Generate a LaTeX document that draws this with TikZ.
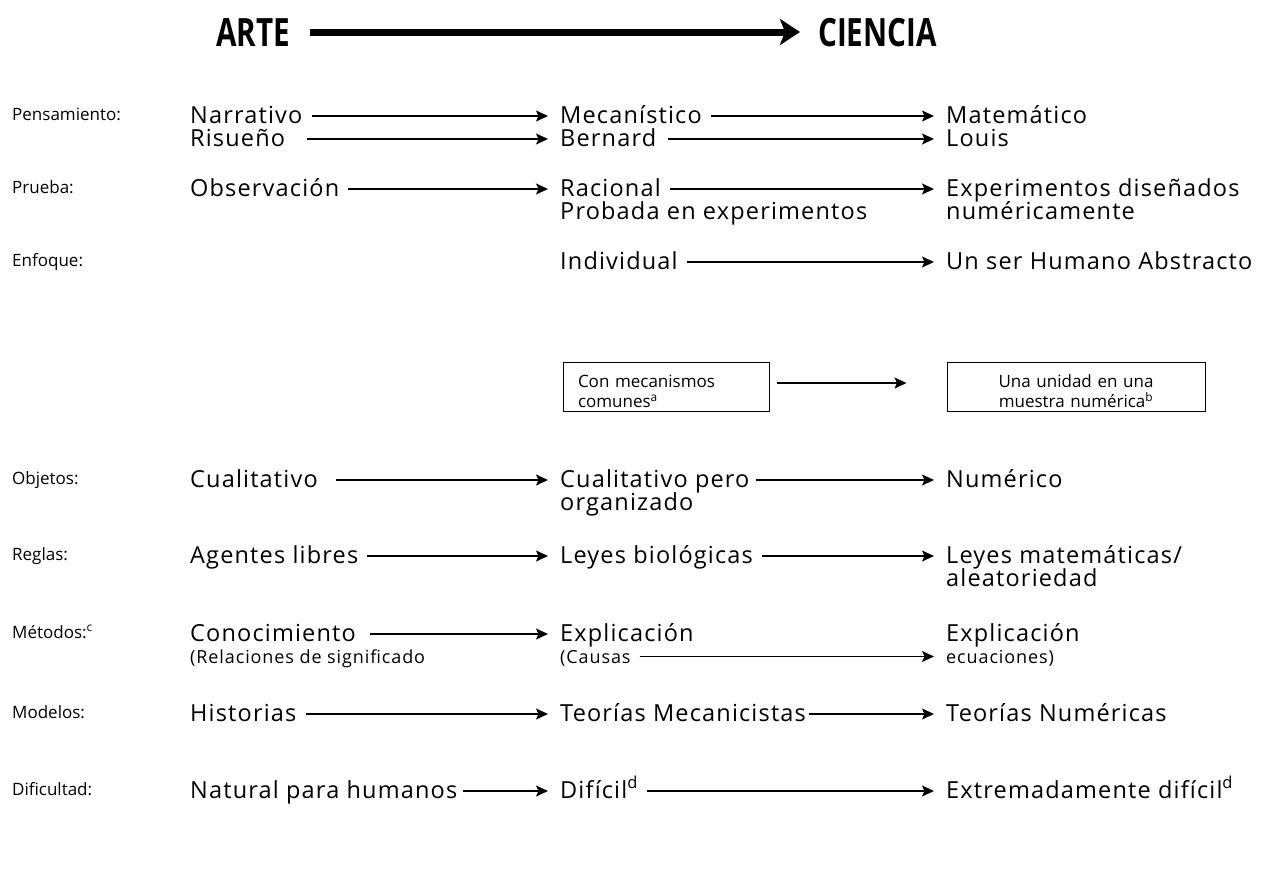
\documentclass[tikz,border=0pt]{standalone}
\usepackage{fontspec}
\setmainfont{Open Sans}
\newfontfamily\rowfont[LetterSpace=5]{Open Sans}
\newfontfamily\ttlfont[FakeStretch=0.76]{Open Sans}
\usetikzlibrary{arrows.meta}
\begin{document}
\begin{tikzpicture}[x=1pt,y=-1pt,
  txt/.style={anchor=base west, inner sep=0pt, text height=17pt, text depth=3pt, font=\rowfont\fontsize{23.5}{28}\selectfont},
  lbl/.style={anchor=base west, inner sep=0pt, font=\fontsize{17}{20}\selectfont},
  sml/.style={anchor=base west, inner sep=0pt, text height=15pt, text depth=2pt, font=\rowfont\fontsize{18}{22}\selectfont},
  ttl/.style={anchor=base west, inner sep=0pt, font=\ttlfont\fontsize{39}{44}\selectfont\bfseries},
  box/.style={draw, line width=1pt, minimum height=47pt, font=\fontsize{17}{20}\selectfont},
  arr/.style={line width=1.3pt, -{Stealth[length=12pt,width=11pt,inset=2.5pt]}, shorten <=9pt, shorten >=12pt},
  bigarr/.style={line width=7pt, -{Stealth[length=20pt,width=26pt,inset=5pt]}, shorten <=20pt, shorten >=18pt}]
\useasboundingbox (0,0) rectangle (1274,886);

% title
\node[ttl] (arte) at (216,46) {ARTE};
\node[ttl] (ciencia) at (818,46) {CIENCIA};
\draw[bigarr] ([yshift=14pt]arte.base east) -- ([yshift=14pt]ciencia.base west);

% Pensamiento
\node[lbl] (lP) at (12,120) {Pensamiento:};
\node[txt] (p11) at (190,123) {Narrativo};
\node[txt] (p12) at (560,123) {Mecanístico};
\node[txt] (p13) at (946,123) {Matemático};
\node[txt] (p21) at (190,146) {Risueño};
\node[txt] (p22) at (560,146) {Bernard};
\node[txt] (p23) at (946,146) {Louis};
\draw[arr] (p11.east) -- (p12.west);
\draw[arr] (p12.east) -- (p13.west);
\draw[arr, shorten <=22pt] (p21.east) -- (p22.west);
\draw[arr, shorten <=12pt] (p22.east) -- (p23.west);

% Prueba
\node[lbl] (lPr) at (12,193) {Prueba:};
\node[txt] (pr11) at (190,196) {Observación};
\node[txt] (pr12) at (560,196) {Racional};
\node[txt] (pr13) at (946,196) {Experimentos diseñados};
\node[txt] (pr22) at (560,219) {Probada en experimentos};
\node[txt] (pr23) at (946,219) {numéricamente};
\draw[arr] (pr11.east) -- (pr12.west);
\draw[arr] (pr12.east) -- (pr13.west);

% Enfoque
\node[lbl] (lE) at (12,266) {Enfoque:};
\node[txt] (e2) at (560,269) {Individual};
\node[txt] (e3) at (946,269) {Un ser Humano Abstracto};
\draw[arr] (e2.east) -- (e3.west);

% boxes
\node[box, minimum width=206pt, text width=176pt, inner xsep=15pt, align=left] (b1) at (666,387) {\rule{0pt}{22pt}Con mecanismos\\comunes\textsuperscript{a}};
\node[box, minimum width=258pt, text width=238pt, inner xsep=10pt, align=center] (b2) at (1076,387) {\rule{0pt}{22pt}Una unidad en una\\muestra numérica\textsuperscript{b}};
\draw[arr, shorten <=7pt, shorten >=40pt] ([yshift=4pt]b1.east) -- ([yshift=4pt]b2.west);

% Objetos
\node[lbl] (lO) at (12,484) {Objetos:};
\node[txt] (o11) at (190,487) {Cualitativo};
\node[txt] (o12) at (560,487) {Cualitativo pero};
\node[txt] (o13) at (946,487) {Numérico};
\node[txt] (o22) at (560,510) {organizado};
\draw[arr, shorten <=18pt] (o11.east) -- (o12.west);
\draw[arr, shorten <=6pt] (o12.east) -- (o13.west);

% Reglas
\node[lbl] (lR) at (12,560) {Reglas:};
\node[txt] (r11) at (190,563) {Agentes libres};
\node[txt] (r12) at (560,563) {Leyes biológicas};
\node[txt] (r13) at (946,563) {Leyes matemáticas/};
\node[txt] (r23) at (946,586) {aleatoriedad};
\draw[arr] (r11.east) -- (r12.west);
\draw[arr] (r12.east) -- (r13.west);

% Metodos
\node[lbl] (lM) at (12,638) {Métodos:\textsuperscript{c}};
\node[txt] (m11) at (190,641) {Conocimiento};
\node[txt] (m12) at (560,641) {Explicación};
\node[txt] (m13) at (946,641) {Explicación};
\node[sml] (m21) at (190,663) {(Relaciones de significado};
\node[sml] (m22) at (560,663) {(Causas};
\node[sml] (m23) at (946,663) {ecuaciones)};
\draw[arr, shorten <=14pt] (m11.east) -- (m12.west);
\draw[arr] (m22.east) -- (m23.west);

% Modelos
\node[lbl] (lMo) at (12,718) {Modelos:};
\node[txt] (mo1) at (190,721) {Historias};
\node[txt] (mo2) at (560,721) {Teorías Mecanicistas};
\node[txt] (mo3) at (946,721) {Teorías Numéricas};
\draw[arr] (mo1.east) -- (mo2.west);
\draw[arr, shorten <=3pt] (mo2.east) -- (mo3.west);

% Dificultad
\node[lbl] (lD) at (12,795) {Dificultad:};
\node[txt] (d1) at (190,798) {Natural para humanos};
\node[txt] (d2) at (560,798) {Difícil\textsuperscript{d}};
\node[txt] (d3) at (946,798) {Extremadamente difícil\textsuperscript{d}};
\draw[arr, shorten <=6pt] (d1.east) -- (d2.west);
\draw[arr] (d2.east) -- (d3.west);
\end{tikzpicture}
\end{document}
